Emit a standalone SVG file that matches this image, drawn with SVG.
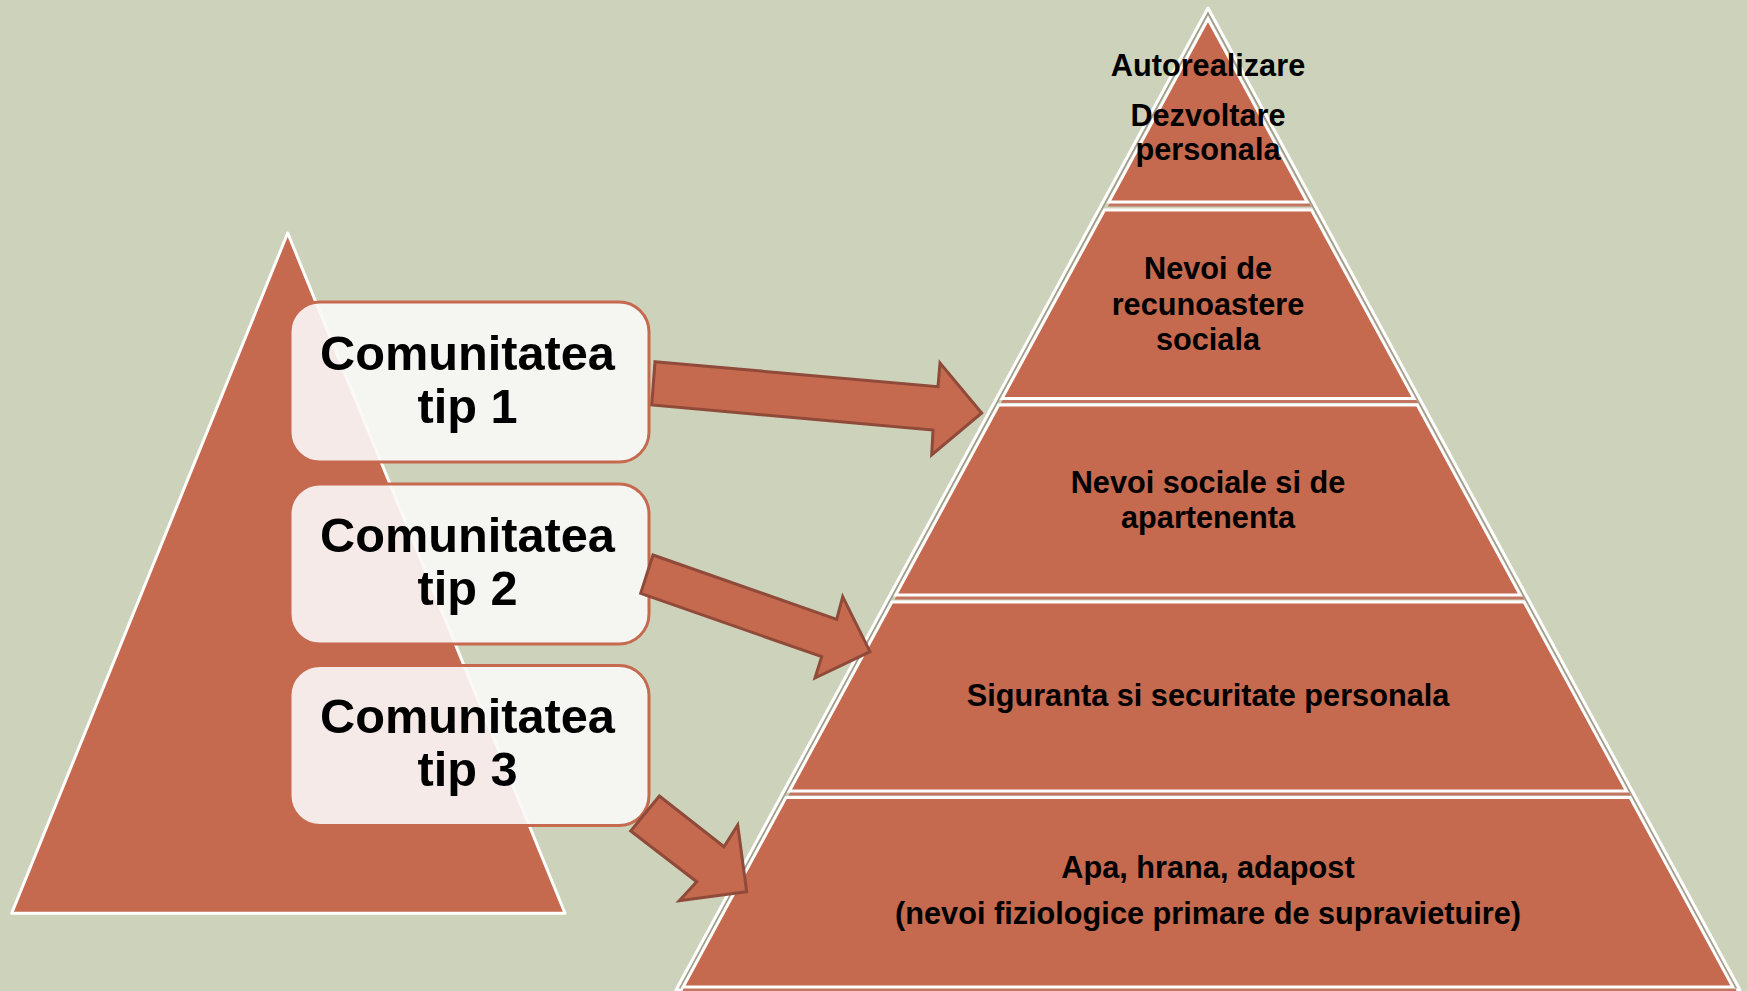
<svg xmlns="http://www.w3.org/2000/svg" width="1747" height="991" viewBox="0 0 1747 991">
<style>
.bg{fill:#CDD3BA}
.tri{fill:#C5694F;stroke:#FFFFFF;stroke-width:3;stroke-linejoin:round}
.seg{fill:#C5694F;stroke:#FFFFFF;stroke-width:3;stroke-linejoin:miter}
.segsh{fill:#C27560;stroke:#C27560;stroke-width:3}
.outer{fill:none;stroke:#FFFFFF;stroke-width:3;stroke-linejoin:round}
.outersh{fill:none;stroke:#A39F8C;stroke-width:2}
.box{fill:#FAF8F7;fill-opacity:0.9;stroke:#C5694F;stroke-width:3}
.arr{fill:#C5694F;stroke:#8F4A39;stroke-width:3;stroke-linejoin:miter}
.bt{font-family:"Liberation Sans",Arial,sans-serif;font-weight:bold;font-size:48.7px;fill:#000;text-anchor:middle}
.pt{font-family:"Liberation Sans",Arial,sans-serif;font-weight:bold;font-size:30.7px;fill:#000;text-anchor:middle}
</style>
<rect class="bg" x="0" y="0" width="1747" height="991"/>
<g id="left-triangle">
<polygon class="tri" points="287.7,233 11.7,913.3 565,913.3"/>
</g>
<g id="pyramid">
<polyline class="outersh" points="679.5,989 1208,13 1736.5,989"/>
<polygon class="outer" points="1208,8 676,990 1740,990"/>
<g id="level-1">
<polygon class="segsh" transform="translate(1.5,3)" points="1208,19 1108.8,202 1307.2,202"/>
<polygon class="seg" points="1208,19 1108.8,202 1307.2,202"/>
<text class="pt" x="1208" y="76">Autorealizare</text>
<text class="pt" x="1208" y="126">Dezvoltare</text>
<text class="pt" x="1208" y="160">personala</text>
</g>
<g id="level-2">
<polygon class="segsh" transform="translate(1.5,3)" points="1104.5,210 1311.5,210 1414,398.5 1002,398.5"/>
<polygon class="seg" points="1104.5,210 1311.5,210 1414,398.5 1002,398.5"/>
<text class="pt" x="1208" y="279">Nevoi de</text>
<text class="pt" x="1208" y="315">recunoastere</text>
<text class="pt" x="1208" y="350">sociala</text>
</g>
<g id="level-3">
<polygon class="segsh" transform="translate(1.5,3)" points="998.7,405 1417.3,405 1520.3,595 895.7,595"/>
<polygon class="seg" points="998.7,405 1417.3,405 1520.3,595 895.7,595"/>
<text class="pt" x="1208" y="493">Nevoi sociale si de</text>
<text class="pt" x="1208" y="528">apartenenta</text>
</g>
<g id="level-4">
<polygon class="segsh" transform="translate(1.5,3)" points="891.9,602 1524.1,602 1626.6,791 789.4,791"/>
<polygon class="seg" points="891.9,602 1524.1,602 1626.6,791 789.4,791"/>
<text class="pt" x="1208" y="706">Siguranta si securitate personala</text>
</g>
<g id="level-5">
<polygon class="segsh" transform="translate(1.5,3)" points="785.9,797.5 1630.1,797.5 1732.9,987 683.1,987"/>
<polygon class="seg" points="785.9,797.5 1630.1,797.5 1732.9,987 683.1,987"/>
<text class="pt" x="1208" y="878">Apa, hrana, adapost</text>
<text class="pt" x="1208" y="924">(nevoi fiziologice primare de supravietuire)</text>
</g>
</g>
<g id="box-1">
<rect class="box" x="290" y="302" width="359" height="160" rx="30" ry="30"/>
<text class="bt" x="467.5" y="370">Comunitatea</text>
<text class="bt" x="467.5" y="423">tip 1</text>
</g>
<g id="box-2">
<rect class="box" x="290" y="484" width="359" height="160" rx="30" ry="30"/>
<text class="bt" x="467.5" y="552">Comunitatea</text>
<text class="bt" x="467.5" y="605">tip 2</text>
</g>
<g id="box-3">
<rect class="box" x="290" y="665.5" width="359" height="160" rx="30" ry="30"/>
<text class="bt" x="467.5" y="733">Comunitatea</text>
<text class="bt" x="467.5" y="786">tip 3</text>
</g>
<g id="connectors">
<polygon class="arr" points="655,361.7 938,386.7 940,363 981.7,413 931.7,455 933,430 651.7,405"/>
<polygon class="arr" points="653,555 836.7,619.3 842.7,596.7 870,651.7 815,678 821.7,656.7 640.7,593.3"/>
<polygon class="arr" points="659.3,796 724,846.7 737.7,825 746.7,891.7 679.3,900.7 696.7,881.7 630.7,831"/>
</g>
</svg>
